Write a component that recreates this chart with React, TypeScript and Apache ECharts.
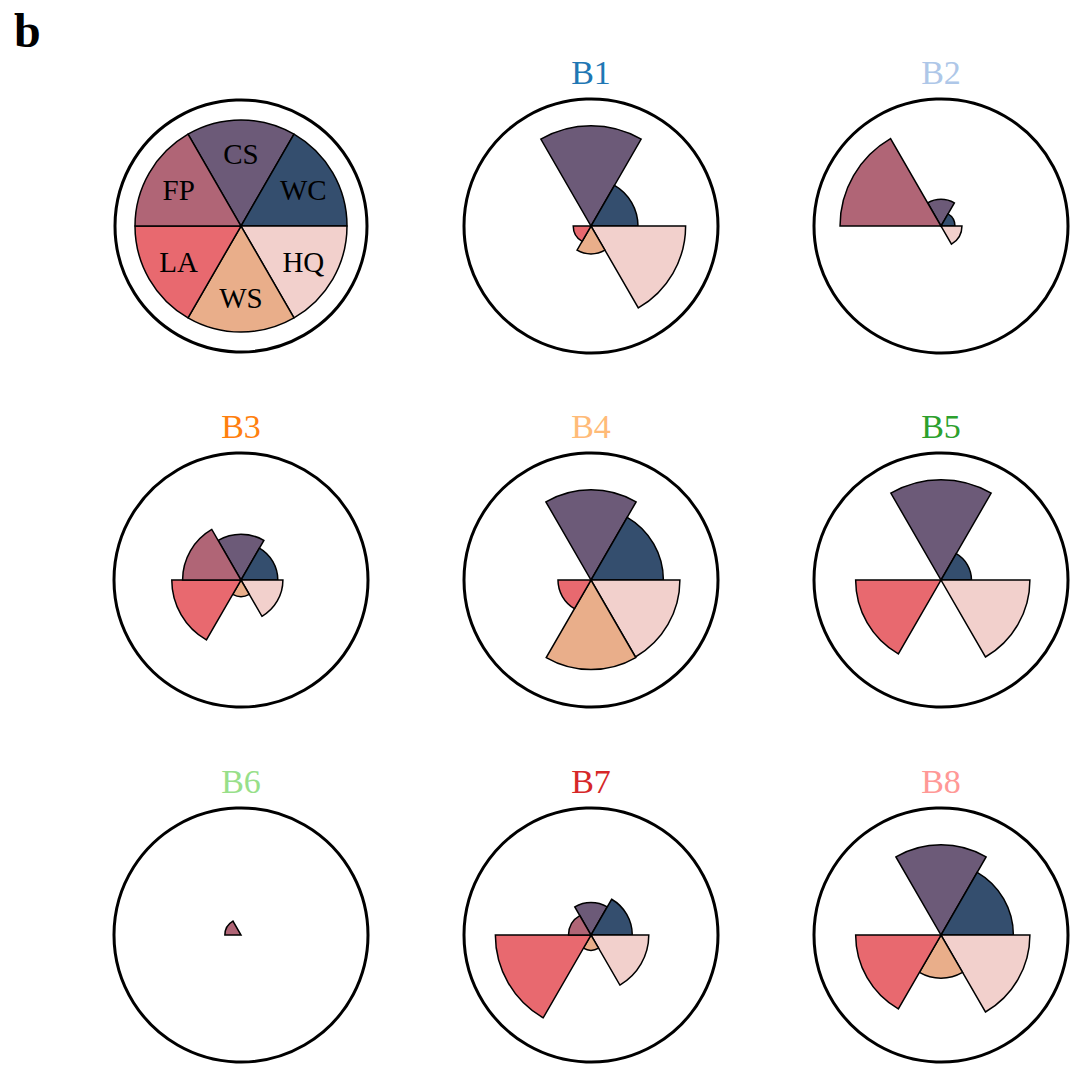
import React, { useEffect, useRef } from "react";
import * as echarts from "echarts";

// Sector categories, in clockwise order starting at the top-left edge (120°)
const categories = ["CS", "WC", "HQ", "WS", "LA", "FP"];
const sectorColors = ["#6c5a78", "#344e6e", "#f2d0cc", "#e9ae8a", "#e8696f", "#b06576"];

const panelNames = ["B1", "B2", "B3", "B4", "B5", "B6", "B7", "B8"];
const titleColors = ["#1f77b4", "#aec7e8", "#ff7f0e", "#ffbb78", "#2ca02c", "#98df8a", "#d62728", "#ff9896"];

// Radius of each sector as a fraction of the outer circle (order: CS, WC, HQ, WS, LA, FP)
const B1 = [0.79, 0.37, 0.745, 0.22, 0.14, 0];
const B2 = [0.21, 0.11, 0.165, 0, 0, 0.795];
const B3 = [0.36, 0.29, 0.33, 0.13, 0.545, 0.46];
const B4 = [0.71, 0.57, 0.7, 0.705, 0.26, 0];
const B5 = [0.79, 0.24, 0.7, 0, 0.672, 0];
const B6 = [0, 0, 0, 0, 0, 0.127];
const B7 = [0.255, 0.325, 0.455, 0.12, 0.753, 0.177];
const B8 = [0.71, 0.57, 0.7, 0.34, 0.672, 0];
const panelValues = [B1, B2, B3, B4, B5, B6, B7, B8];

const colCenters = [241, 591, 941];
const rowCenters = [226, 580, 935];
const outerRadius = 127;
const legendPieRadius = 106;
const serif = "'Liberation Serif', 'DejaVu Serif', serif";

export default function App() {
  const ref = useRef<HTMLDivElement>(null);

  useEffect(() => {
    if (!ref.current) return;
    const chart = echarts.init(ref.current, undefined, { renderer: "svg" });

    const polar: any[] = [];
    const angleAxis: any[] = [];
    const radiusAxis: any[] = [];
    const series: any[] = [];
    const graphic: any[] = [];

    graphic.push({
      type: "text",
      x: 14,
      y: 30,
      style: {
        text: "b",
        font: `bold 48px ${serif}`,
        fill: "#000",
        textAlign: "left",
        textVerticalAlign: "middle",
      },
    });

    // Legend panel (top-left)
    const lx = colCenters[0];
    const ly = rowCenters[0];
    graphic.push({
      type: "circle",
      shape: { cx: lx, cy: ly, r: 126 },
      style: { fill: "none", stroke: "#000", lineWidth: 3 },
      silent: true,
    });
    series.push({
      type: "pie",
      center: [lx, ly],
      radius: [0, legendPieRadius],
      startAngle: 120,
      clockwise: true,
      silent: true,
      label: { show: false },
      labelLine: { show: false },
      emphasis: { disabled: true },
      itemStyle: { borderColor: "#000", borderWidth: 1.5 },
      data: categories.map((c, i) => ({ name: c, value: 1, itemStyle: { color: sectorColors[i] } })),
    });
    series.push({
      type: "pie",
      center: [lx, ly],
      radius: [0, 138],
      startAngle: 120,
      clockwise: true,
      silent: true,
      z: 5,
      itemStyle: { color: "rgba(0,0,0,0)", borderWidth: 0 },
      label: {
        show: true,
        position: "inside",
        formatter: "{b}",
        color: "#000",
        fontSize: 29,
        fontFamily: serif,
      },
      labelLine: { show: false },
      emphasis: { disabled: true },
      data: categories.map((c) => ({ name: c, value: 1 })),
    });

    panelNames.forEach((name, p) => {
      const k = p + 1;
      const cx = colCenters[k % 3];
      const cy = rowCenters[Math.floor(k / 3)];
      polar.push({ center: [cx, cy], radius: outerRadius });
      angleAxis.push({
        polarIndex: p,
        type: "category",
        data: categories,
        startAngle: 120,
        clockwise: true,
        boundaryGap: true,
        axisLine: { show: true, lineStyle: { color: "#000", width: 3 } },
        axisTick: { show: false },
        axisLabel: { show: false },
        splitLine: { show: false },
        splitArea: { show: false },
      });
      radiusAxis.push({
        polarIndex: p,
        type: "value",
        min: 0,
        max: 1,
        axisLine: { show: false },
        axisTick: { show: false },
        axisLabel: { show: false },
        splitLine: { show: false },
        splitArea: { show: false },
      });
      series.push({
        type: "bar",
        name,
        coordinateSystem: "polar",
        polarIndex: p,
        barCategoryGap: "0%",
        silent: true,
        itemStyle: { borderColor: "#000", borderWidth: 1.5 },
        data: panelValues[p].map((v, c) =>
          v > 0 ? { value: v, itemStyle: { color: sectorColors[c] } } : "-"
        ),
      });
      graphic.push({
        type: "text",
        x: cx,
        y: cy - 154,
        style: {
          text: name,
          font: `34px ${serif}`,
          fill: titleColors[p],
          textAlign: "center",
          textVerticalAlign: "middle",
        },
      });
    });

    chart.setOption({
      animation: false,
      backgroundColor: "#fff",
      polar,
      angleAxis,
      radiusAxis,
      series,
      graphic,
    });

    return () => chart.dispose();
  }, []);

  return (
    <div
      ref={ref}
      style={{ position: "absolute", left: 0, top: 0, width: 1080, height: 1075 }}
    />
  );
}
